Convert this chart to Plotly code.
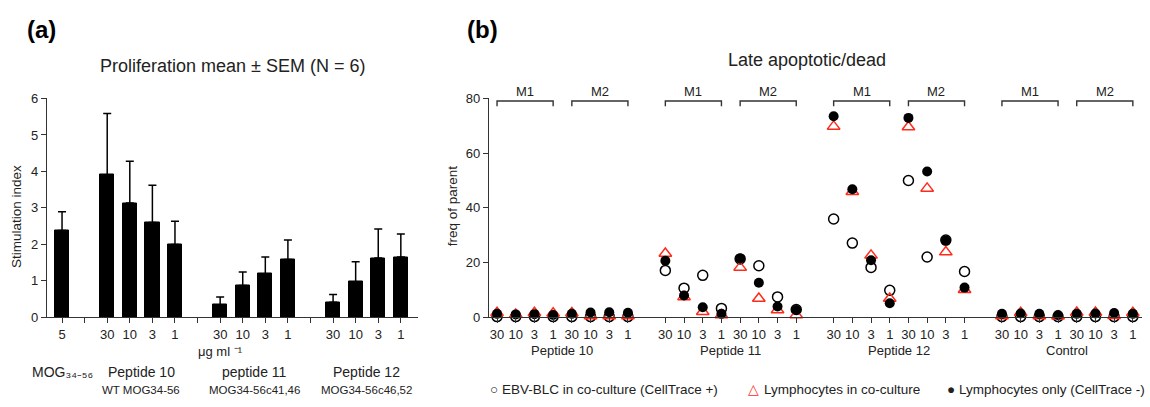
import plotly.graph_objects as go

W, H = 1150, 407
FONT = "Liberation Sans, Arial, Helvetica, sans-serif"
INK = "#222222"
AXIS = "#333333"

# ---------------- (a) proliferation data ----------------
a_groups = ["MOG₃₄₋₅₆", "Peptide 10", "peptide 11", "Peptide 12"]
a_subtitles = ["", "WT MOG34-56", "MOG34-56c41,46", "MOG34-56c46,52"]
a_doses = [["5"], ["30", "10", "3", "1"], ["30", "10", "3", "1"], ["30", "10", "3", "1"]]
a_mean = [[2.38], [3.91, 3.13, 2.60, 1.99], [0.34, 0.87, 1.19, 1.58], [0.41, 0.97, 1.62, 1.65]]
a_sem = [[0.51], [1.68, 1.15, 1.02, 0.64], [0.21, 0.37, 0.46, 0.54], [0.21, 0.55, 0.80, 0.63]]
a_unit = "μg ml ⁻¹"

# ---------------- (b) late apoptotic / dead data ----------------
b_groups = ["Peptide 10", "Peptide 11", "Peptide 12", "Control"]
b_subsets = ["M1", "M2"]
b_doses = ["30", "10", "3", "1"]
# each list: M1 (30, 10, 3, 1) then M2 (30, 10, 3, 1)
ebv_cc = {
    "Peptide 10": [0.2, 0.2, 0.2, 0.2, 0.2, 0.2, 0.2, 0.2],
    "Peptide 11": [17.1, 10.6, 15.3, 3.2, 21.3, 18.8, 7.4, 2.8],
    "Peptide 12": [35.9, 27.1, 18.2, 9.8, 50.0, 22.0, 28.2, 16.7],
    "Control": [0.2, 0.2, 0.2, 0.2, 0.2, 0.2, 0.2, 0.2],
}
lym_cc = {
    "Peptide 10": [1.6, 1.0, 1.6, 1.4, 1.5, 0.4, 0.4, 0.4],
    "Peptide 11": [23.3, 7.4, 2.0, 0.8, 18.2, 6.8, 2.6, 0.8],
    "Peptide 12": [69.8, 45.9, 22.6, 6.8, 69.6, 47.1, 23.8, 10.0],
    "Control": [0.4, 1.6, 0.4, 0.3, 1.7, 1.7, 0.5, 1.6],
}
lym_only = {
    "Peptide 10": [1.2, 1.0, 1.1, 0.8, 1.2, 1.7, 1.8, 1.6],
    "Peptide 11": [20.6, 7.9, 3.6, 1.2, 21.5, 12.6, 3.9, 2.6],
    "Peptide 12": [73.5, 46.8, 20.8, 5.1, 72.9, 53.3, 28.0, 10.8],
    "Control": [1.2, 1.3, 1.2, 0.8, 1.2, 1.3, 1.5, 1.2],
}
legend_names = ["EBV-BLC in co-culture (CellTrace +)", "Lymphocytes in co-culture",
                "Lymphocytes only (CellTrace -)"]


def px_x(p):
    return p / W


def px_y(p):
    return 1 - p / H


fig = go.Figure()

# ---- (a) bars: one slot per dose, one empty slot between groups ----
bar_x, bar_y, bar_err = [], [], []
tick_vals, tick_text = [], []
group_centres = []
slot = 0
for gi, doses in enumerate(a_doses):
    first = slot
    for di, d in enumerate(doses):
        bar_x.append(slot)
        bar_y.append(a_mean[gi][di])
        bar_err.append(a_sem[gi][di])
        tick_vals.append(slot)
        tick_text.append(d)
        slot += 1
    group_centres.append((first + slot - 1) / 2)
    slot += 1  # empty slot between groups (ticked, unlabelled)

fig.add_trace(go.Bar(
    x=bar_x, y=bar_y, width=0.63, xaxis="x", yaxis="y",
    marker=dict(color="black", line=dict(color="black", width=1)),
    error_y=dict(type="data", symmetric=False, array=bar_err,
                 arrayminus=[0] * len(bar_err), color="black", thickness=1.5, width=4),
    showlegend=False, hoverinfo="x+y",
))

# ---- (b) scatter: x = group * 9 + subset * 4 + dose ----
STRIDE = 9
bx, btick_vals, btick_text = [], [], []
for g in range(len(b_groups)):
    for s in range(len(b_subsets)):
        for d, lab in enumerate(b_doses):
            pos = g * STRIDE + s * 4 + d
            bx.append(pos)
            btick_vals.append(pos)
            btick_text.append(lab)


def flat(series):
    out = []
    for g in b_groups:
        out.extend(series[g])
    return out


fig.add_trace(go.Scatter(
    x=bx, y=flat(ebv_cc), mode="markers", xaxis="x2", yaxis="y2", name=legend_names[0],
    marker=dict(symbol="circle-open", size=10, color="black", line=dict(width=1.5)),
    cliponaxis=False, showlegend=False,
))
fig.add_trace(go.Scatter(
    x=bx, y=flat(lym_cc), mode="markers", xaxis="x2", yaxis="y2", name=legend_names[1],
    marker=dict(symbol="triangle-up-open", size=11, color="#ff2a1a", line=dict(width=1.5)),
    cliponaxis=False, showlegend=False,
))
fig.add_trace(go.Scatter(
    x=bx, y=flat(lym_only), mode="markers", xaxis="x2", yaxis="y2", name=legend_names[2],
    marker=dict(symbol="circle", size=10, color="black"),
    cliponaxis=False, showlegend=False,
))

# ---- brackets for M1 / M2 above each group ----
shapes = []
annotations = []
for g in range(len(b_groups)):
    for s, sub in enumerate(b_subsets):
        x0 = g * STRIDE + s * 4
        x1 = x0 + len(b_doses) - 1
        shapes.append(dict(
            type="path", xref="x2", yref="y2",
            path=f"M {x0},77.2 L {x0},79.1 L {x1},79.1 L {x1},77.2",
            line=dict(color=AXIS, width=1.4),
        ))
        annotations.append(dict(
            x=(x0 + x1) / 2, y=px_y(88), xref="x2", yref="paper", text=sub,
            showarrow=False, xanchor="center", yanchor="middle",
            font=dict(size=13, color=INK, family=FONT),
        ))
    annotations.append(dict(
        x=g * STRIDE + 3.5, y=px_y(357), xref="x2", yref="paper", text=b_groups[g],
        showarrow=False, xanchor="center", yanchor="middle",
        font=dict(size=13, color=INK, family=FONT),
    ))

# ---- (a) unit, group names and peptide descriptions under the axis ----
annotations.append(dict(
    x=7, y=px_y(358), xref="x", yref="paper", text=a_unit, showarrow=False,
    xanchor="center", yanchor="middle", font=dict(size=13, color=INK, family=FONT),
))
for gi, name in enumerate(a_groups):
    annotations.append(dict(
        x=group_centres[gi], y=px_y(379), xref="x", yref="paper", text=name,
        showarrow=False, xanchor="center", yanchor="middle",
        font=dict(size=14, color=INK, family=FONT),
    ))
    if a_subtitles[gi]:
        annotations.append(dict(
            x=group_centres[gi], y=px_y(398), xref="x", yref="paper", text=a_subtitles[gi],
            showarrow=False, xanchor="center", yanchor="middle",
            font=dict(size=11.5, color=INK, family=FONT),
        ))

# ---- panel letters, titles, axis titles ----
annotations += [
    dict(x=px_x(25), y=px_y(23), xref="paper", yref="paper", text="<b>(a)</b>", showarrow=False,
         xanchor="left", yanchor="middle", font=dict(size=24, color="black", family=FONT)),
    dict(x=px_x(465), y=px_y(23), xref="paper", yref="paper", text="<b>(b)</b>", showarrow=False,
         xanchor="left", yanchor="middle", font=dict(size=24, color="black", family=FONT)),
    dict(x=px_x(232), y=px_y(61), xref="paper", yref="paper",
         text="Proliferation mean ± SEM (N = 6)", showarrow=False,
         xanchor="center", yanchor="middle", font=dict(size=18, color=INK, family=FONT)),
    dict(x=px_x(807), y=px_y(55), xref="paper", yref="paper", text="Late apoptotic/dead",
         showarrow=False, xanchor="center", yanchor="middle",
         font=dict(size=18, color=INK, family=FONT)),
    dict(x=px_x(17), y=px_y(218), xref="paper", yref="paper", text="Stimulation index",
         showarrow=False, textangle=-90, xanchor="center", yanchor="middle",
         font=dict(size=13.5, color=INK, family=FONT)),
    dict(x=px_x(452), y=px_y(207), xref="paper", yref="paper", text="freq of parent",
         showarrow=False, textangle=-90, xanchor="center", yanchor="middle",
         font=dict(size=13.5, color=INK, family=FONT)),
]

# ---- legend row ----
leg_font = dict(size=13.5, color=INK, family=FONT)
annotations += [
    dict(x=px_x(488), y=px_y(397), xref="paper", yref="paper", xanchor="left", yanchor="middle",
         showarrow=False, font=leg_font, text="○ " + legend_names[0]),
    dict(x=px_x(746), y=px_y(397), xref="paper", yref="paper", xanchor="left", yanchor="middle",
         showarrow=False, font=dict(size=13.5, color="#ff2a1a", family=FONT), text="△"),
    dict(x=px_x(762), y=px_y(397), xref="paper", yref="paper", xanchor="left", yanchor="middle",
         showarrow=False, font=leg_font, text=legend_names[1]),
    dict(x=px_x(1147), y=px_y(397), xref="paper", yref="paper", xanchor="right", yanchor="middle",
         showarrow=False, font=leg_font, text="● " + legend_names[2]),
]

ydom = [px_y(322), px_y(95)]
common_axis = dict(showline=True, linecolor=AXIS, linewidth=1.4, ticks="outside", ticklen=5,
                   tickwidth=1.4, tickcolor=AXIS, showgrid=False, zeroline=False,
                   tickfont=dict(size=13, color=INK, family=FONT))

fig.update_layout(
    width=W, height=H, margin=dict(l=0, r=0, t=0, b=0),
    paper_bgcolor="white", plot_bgcolor="white",
    font=dict(family=FONT, color=INK),
    xaxis=dict(domain=[px_x(47), px_x(418)], range=[-0.666, 15.76], tickmode="array",
               tickvals=tick_vals, ticktext=tick_text, anchor="y",
               # every slot carries a tick, including the empty gaps between groups
               minor=dict(tickmode="linear", tick0=0, dtick=1, ticks="outside", ticklen=5,
                          tickwidth=1.4, tickcolor=AXIS, showgrid=False),
               **common_axis),
    yaxis=dict(domain=ydom, range=[0, 6], tickvals=[0, 1, 2, 3, 4, 5, 6], anchor="x",
               **common_axis),
    xaxis2=dict(domain=[px_x(489), px_x(1142)], range=[-0.43, 34.49], tickmode="array",
                tickvals=btick_vals, ticktext=btick_text, anchor="y2", **common_axis),
    yaxis2=dict(domain=ydom, range=[0, 80], tickvals=[0, 20, 40, 60, 80], anchor="x2",
                **common_axis),
    shapes=shapes, annotations=annotations, bargap=0,
)

fig.write_html("out.html")
